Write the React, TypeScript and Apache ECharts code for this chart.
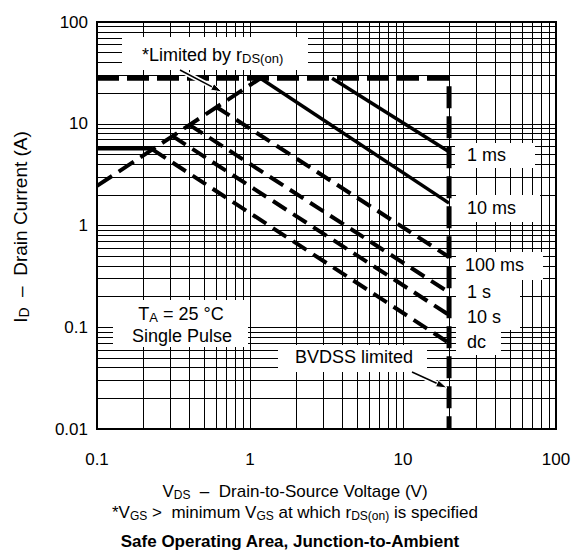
import React, { useEffect, useRef } from "react";
import * as echarts from "echarts";

// ---- tick labels ----
const xTickLabels = ["0.1", "1", "10", "100"];
const yTickLabels = ["0.01", "0.1", "1", "10", "100"];

// ---- minor grid values (log grid) ----
const xMinorGrid = [
  0.2, 0.3, 0.4, 0.5, 0.6, 0.7, 0.8, 0.9,
  2, 3, 4, 5, 6, 7, 8, 9,
  20, 30, 40, 50, 60, 70, 80, 90,
];
const yMinorGrid = [
  0.02, 0.03, 0.04, 0.05, 0.06, 0.07, 0.08, 0.09,
  0.2, 0.3, 0.4, 0.5, 0.6, 0.7, 0.8, 0.9,
  2, 3, 4, 5, 6, 7, 8, 9,
  20, 30, 40, 50, 60, 70, 80, 90,
];

// ---- series data [VDS (V), ID (A)] ----
const currentLimit = [[0.1, 28], [20, 28], [20, 0.01]];
const rdsLimit = [[0.1, 2.45], [1.17, 28]];
const idLimit = [[0.1, 5.7], [0.23, 5.7]];
const pulse1ms = [[3.44, 28], [20, 5.3]];
const pulse10ms = [[1.17, 28], [20, 1.66]];
const pulse100ms = [[0.6, 14.7], [20, 0.49]];
const pulse1s = [[0.4, 9.8], [20, 0.22]];
const pulse10s = [[0.31, 7.6], [20, 0.132]];
const pulseDc = [[0.23, 5.6], [20, 0.07]];

const FONT = "'Liberation Sans', Arial, Helvetica, sans-serif";

function findLabel(labels: string[], v: number) {
  const l = labels.find((t) => Math.abs(Math.log10(+t) - Math.log10(v)) < 1e-6);
  return l ?? "";
}

function richStyle(size: number, subSize: number) {
  return {
    n: { fontSize: size, fontFamily: FONT, fill: "#000", lineHeight: size + 2, verticalAlign: "middle" },
    s: { fontSize: subSize, fontFamily: FONT, fill: "#000", lineHeight: subSize - 1, verticalAlign: "bottom" },
    b: { fontSize: size, fontFamily: FONT, fill: "#000", lineHeight: size + 2, fontWeight: "bold" },
  };
}

function textEl(x: number, y: number, text: string, size: number, align = "left", extra: any = {}) {
  return {
    type: "text",
    x,
    y,
    z: 20,
    ...extra,
    style: {
      text,
      rich: richStyle(size, Math.round(size * 0.72)),
      fontSize: size,
      fontFamily: FONT,
      fill: "#000",
      align,
      textAlign: align,
      verticalAlign: "middle",
      textVerticalAlign: "middle",
    },
  };
}

function boxEl(x: number, y: number, w: number, h: number) {
  return {
    type: "rect",
    z: 3,
    shape: { x, y, width: w, height: h },
    style: { fill: "#fff", stroke: null },
  };
}

function arrowEls(x1: number, y1: number, x2: number, y2: number) {
  const dx = x2 - x1;
  const dy = y2 - y1;
  const len = Math.sqrt(dx * dx + dy * dy);
  const ux = dx / len;
  const uy = dy / len;
  const nx = -uy;
  const ny = ux;
  const hl = 11;
  const hw = 3.6;
  const bx = x2 - ux * hl;
  const by = y2 - uy * hl;
  return [
    {
      type: "line",
      z: 15,
      shape: { x1, y1, x2: bx, y2: by },
      style: { stroke: "#fff", lineWidth: 5 },
    },
    {
      type: "line",
      z: 16,
      shape: { x1, y1, x2: bx + ux * 2, y2: by + uy * 2 },
      style: { stroke: "#000", lineWidth: 1.5 },
    },
    {
      type: "polygon",
      z: 16,
      shape: {
        points: [
          [x2, y2],
          [bx + nx * hw, by + ny * hw],
          [bx - nx * hw, by - ny * hw],
        ],
      },
      style: { fill: "#000", stroke: "#fff", lineWidth: 1 },
    },
  ];
}

function lineSeries(data: number[][], dashed: boolean, width: number, dash: number[] = [16, 8]) {
  return {
    type: "line",
    data,
    symbol: "none",
    z: 10,
    silent: true,
    lineStyle: { color: "#000", width, type: dashed ? dash : "solid", cap: "butt" },
  };
}

export default function App() {
  const ref = useRef<HTMLDivElement>(null);
  useEffect(() => {
    document.body.style.margin = "0";
    if (!ref.current) return;
    const chart = echarts.init(ref.current, undefined, { renderer: "svg" });
    const option: any = {
      animation: false,
      grid: {
        left: 97,
        right: 18,
        top: 22,
        bottom: 126,
        show: true,
        borderColor: "#000",
        borderWidth: 2,
        backgroundColor: "transparent",
      },
      xAxis: {
        type: "log",
        logBase: 10,
        min: 0.1,
        max: 100,
        axisLine: { show: true, onZero: false, lineStyle: { color: "#000", width: 2 } },
        axisTick: { show: false },
        axisLabel: {
          color: "#000",
          fontSize: 17,
          fontFamily: FONT,
          margin: 22,
          showMinLabel: true,
          showMaxLabel: true,
          formatter: (v: number) => findLabel(xTickLabels, v),
        },
        splitLine: { show: true, lineStyle: { color: "#000", width: 1 } },
      },
      yAxis: {
        type: "log",
        logBase: 10,
        min: 0.01,
        max: 100,
        axisLine: { show: true, onZero: false, lineStyle: { color: "#000", width: 2 } },
        axisTick: { show: false },
        axisLabel: {
          color: "#000",
          fontSize: 17,
          fontFamily: FONT,
          margin: 9,
          showMinLabel: true,
          showMaxLabel: true,
          formatter: (v: number) => findLabel(yTickLabels, v),
        },
        splitLine: { show: true, lineStyle: { color: "#000", width: 1 } },
      },
      series: [
        {
          type: "line",
          data: [],
          symbol: "none",
          silent: true,
          z: 1,
          markLine: {
            silent: true,
            z: 1,
            symbol: ["none", "none"],
            label: { show: false },
            emphasis: { disabled: true },
            lineStyle: { color: "#000", width: 1, type: "solid" },
            data: [
              ...xMinorGrid.map((v) => ({ xAxis: v })),
              ...yMinorGrid.map((v) => ({ yAxis: v })),
            ],
          },
        },
        lineSeries(currentLimit, true, 5, [22, 8]),
        lineSeries(rdsLimit, true, 4, [18, 8]),
        lineSeries(idLimit, false, 4),
        lineSeries(pulse1ms, false, 3.5),
        lineSeries(pulse10ms, false, 3.5),
        lineSeries(pulse100ms, true, 4),
        lineSeries(pulse1s, true, 4),
        lineSeries(pulse10s, true, 4),
        lineSeries(pulseDc, true, 4),
      ],
      graphic: [
        // label boxes
        boxEl(122, 37, 186, 33),
        boxEl(455, 143, 80, 25),
        boxEl(456, 195, 84, 27),
        boxEl(456, 252, 87, 28),
        boxEl(456, 280, 64, 50),
        boxEl(456, 330, 45, 25),
        boxEl(278, 345, 149, 27),
        boxEl(113, 300, 135, 47),
        // texts
        textEl(142, 55, "{n|*Limited by r}{s|DS(on)}", 18),
        textEl(467, 155, "{n|1 ms}", 18),
        textEl(467, 208, "{n|10 ms}", 18),
        textEl(465, 265, "{n|100 ms}", 18),
        textEl(467, 292, "{n|1 s}", 18),
        textEl(467, 317, "{n|10 s}", 18),
        textEl(467, 342, "{n|dc}", 18),
        textEl(354, 357, "{n|BVDSS limited}", 18, "center"),
        textEl(181, 314, "{n|T}{s|A}{n| = 25 °C}", 18, "center"),
        textEl(182, 336, "{n|Single Pulse}", 18, "center"),
        ...arrowEls(180, 70, 222, 92),
        ...arrowEls(412, 372, 447, 388),
        // axis titles and captions
        textEl(295, 491, "{n|V}{s|DS}{n|  –  Drain-to-Source Voltage (V)}", 17, "center"),
        textEl(295, 512, "{n|*V}{s|GS}{n| >  minimum V}{s|GS}{n| at which r}{s|DS(on)}{n| is specified}", 17, "center"),
        textEl(290, 541, "{b|Safe Operating Area, Junction-to-Ambient}", 17, "center"),
        textEl(20, 227, "{n|I}{s|D}{n|  –  Drain Current (A)}", 19, "center", { rotation: Math.PI / 2 }),
      ],
    };
    chart.setOption(option);
    return () => chart.dispose();
  }, []);
  return <div ref={ref} style={{ width: 574, height: 555 }} />;
}
